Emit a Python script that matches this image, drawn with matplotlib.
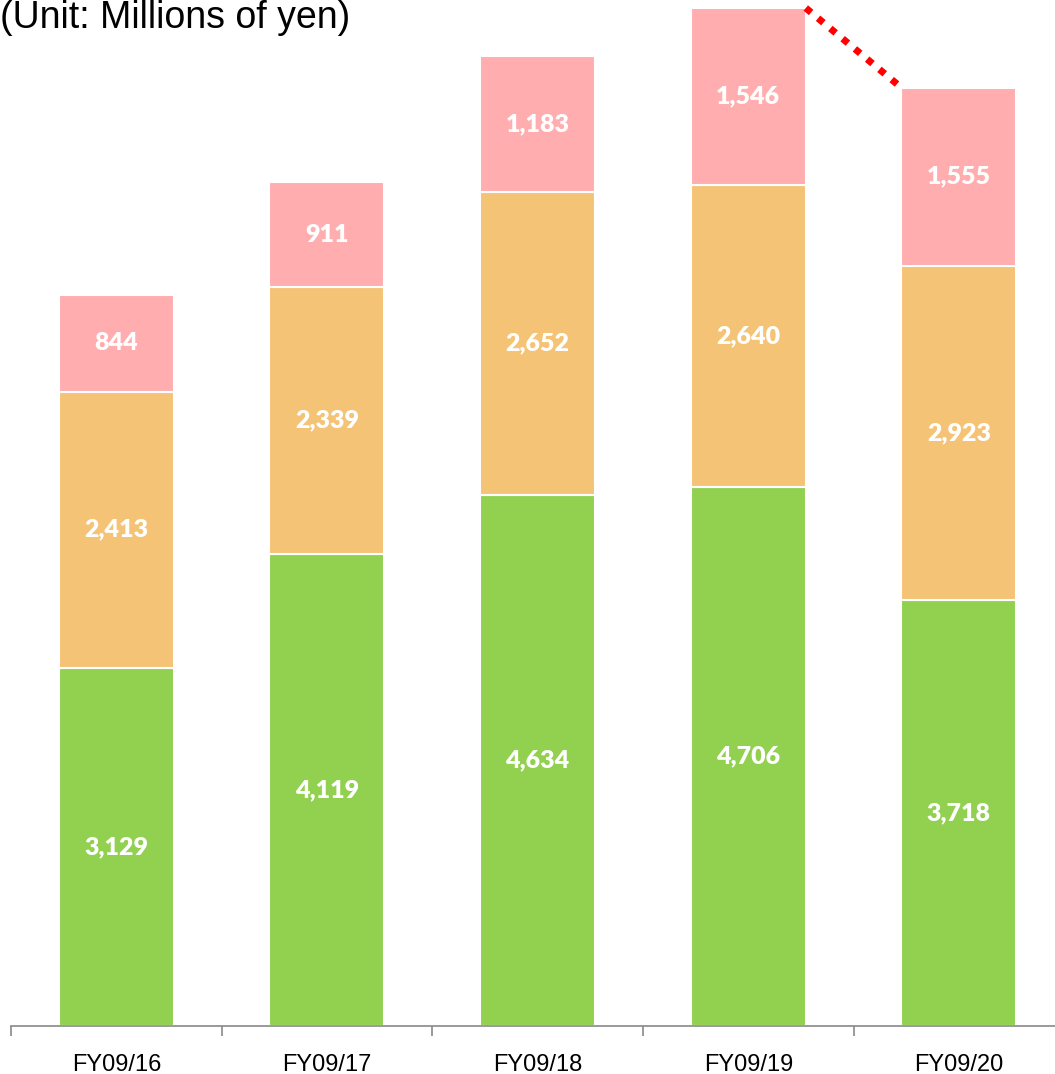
import numpy as np
import matplotlib.pyplot as plt

# Data (millions of yen)
years = ['FY09/16', 'FY09/17', 'FY09/18', 'FY09/19', 'FY09/20']
seg_bottom = [3129, 4119, 4634, 4706, 3718]
seg_middle = [2413, 2339, 2652, 2640, 2923]
seg_top = [844, 911, 1183, 1546, 1555]

colors = ['#92D050', '#F5C376', '#FFADAF']

fig = plt.figure(figsize=(10.55, 10.74), dpi=100)
ax = fig.add_axes([11 / 1055, 48 / 1074, 1 - 11 / 1055, 1 - 48 / 1074])

x = np.arange(len(years))
width = 0.546
bottom = np.zeros(len(years))
for vals, c in zip([seg_bottom, seg_middle, seg_top], colors):
    vals = np.array(vals)
    ax.bar(x, vals, width, bottom=bottom, color=c, edgecolor='white', linewidth=1.5)
    for xi, b, v in zip(x, bottom, vals):
        ax.text(xi, b + v / 2, f'{v:,}', ha='center', va='center', color='white',
                fontsize=18, fontweight='heavy', family='Lato')
    bottom = bottom + vals

# Red dotted line between the last two bar tops
totals = bottom
ax.plot([3 + width / 2, 4 - width / 2], [totals[3], totals[4]], color='red',
        linewidth=5, linestyle=(0, (1, 1.3)), dash_capstyle='butt', clip_on=False)

for side in ['top', 'right', 'left']:
    ax.spines[side].set_visible(False)
ax.spines['bottom'].set_color('#898989')
ax.spines['bottom'].set_linewidth(1.2)
ax.set_yticks([])

ax.set_xticks(x)
ax.set_xticklabels(years, fontsize=17, family='Liberation Sans')
ax.tick_params(axis='x', which='major', length=0, pad=20)
# category separators as minor ticks
ax.set_xticks(np.arange(-0.5, 4.6, 1), minor=True)
ax.tick_params(axis='x', which='minor', length=7, color='#898989', width=1.2)

# limits last, since set_xticks widens the view
ax.set_xlim(-0.5, 4.456)
ax.set_ylim(0, 8962)

fig.text(0.0, 1 - 28 / 1074, '(Unit: Millions of yen)', fontsize=27,
         family='Liberation Sans', ha='left', va='baseline')

fig.savefig('out.png', dpi=100, facecolor='white')
